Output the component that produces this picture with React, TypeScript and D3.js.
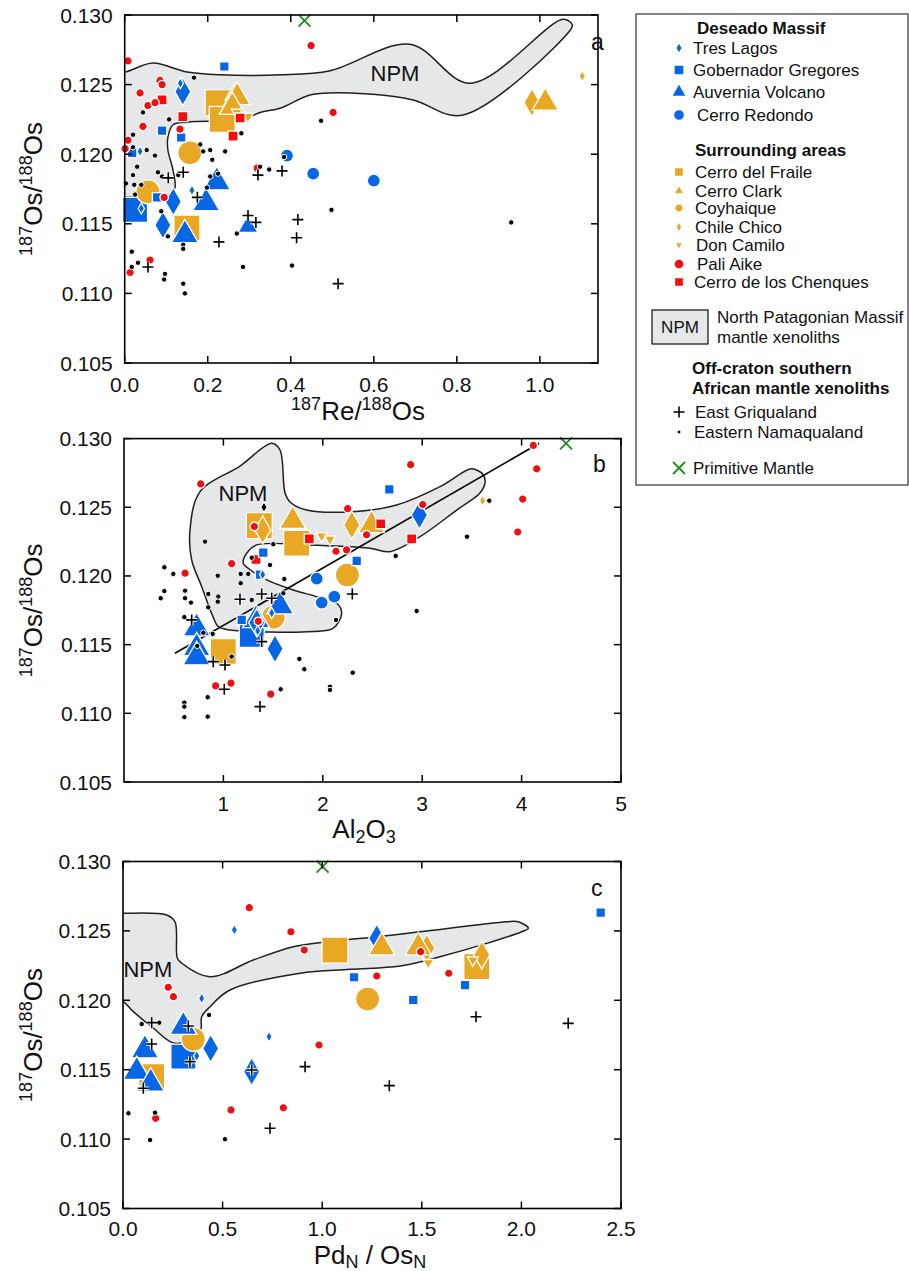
import React from "react";
import * as d3 from "d3";

type Pt = [number, number];

// ---------------- Panel a : 187Re/188Os ----------------
const aNPM: Pt[] = [[-0.03,0.1259],[0,0.1259],[0.068,0.12655],[0.15,0.1259],[0.23,0.1257],[0.374,0.1257],[0.495,0.1260],[0.687,0.1279],[0.832,0.1251],[1.056,0.1297],[1.078,0.1293],[1.073,0.1289],[0.813,0.1228],[0.695,0.1239],[0.598,0.1243],[0.454,0.1243],[0.374,0.1233],[0.326,0.1230],[0.285,0.1225],[0.15,0.1223],[0.116,0.1221],[0.104,0.1212],[0.104,0.1203],[0.116,0.1189],[0.121,0.1176],[0.109,0.1171],[0,0.1169],[-0.03,0.1169]];
const aNPMLabel: Pt = [0.651, 0.1258];
const aPaliAike: Pt[] = [[0.008,0.1267],[0.085,0.1253],[0.09,0.1250],[0.037,0.1244],[0.056,0.1235],[0.073,0.1237],[0.044,0.1220],[0.133,0.1218],[0.008,0.1210],[0.001,0.1204],[0.095,0.1169],[0.061,0.1124],[0.013,0.1115],[0.449,0.1278],[0.502,0.1230],[0.319,0.1190]];
const aChenques: Pt[] = [[0.09,0.1239],[0.14,0.1227],[0.261,0.1213],[0.278,0.1226]];
const aGobernadorSmall: Pt[] = [[0.24,0.1263],[0.09,0.1217],[0.136,0.1212],[0.078,0.1169],[0.018,0.1201]];
const aGobernadorBig: Pt[] = [[0.025,0.1160]];
const aTresLagosBig: Pt[] = [[0.14,0.1245],[0.117,0.1166],[0.092,0.1149]];
const aTresLagosSmall: Pt[] = [[0.134,0.1251],[0.037,0.1202],[0.04,0.1161],[0.162,0.1174]];
const aAuverniaBig: Pt[] = [[0.222,0.1180],[0.196,0.1165],[0.145,0.1142]];
const aAuverniaMid: Pt[] = [[0.297,0.1148]];
const aRedondo: Pt[] = [[0.391,0.1199],[0.454,0.1186],[0.6,0.1181]];
const aFraile: Pt[] = [[0.225,0.1237],[0.235,0.1225],[0.15,0.1147]];
const aClark: Pt[] = [[0.271,0.1241],[0.259,0.1234],[1.013,0.1237]];
const aCoyhaique: Pt[] = [[0.157,0.1201],[0.056,0.1173]];
const aChileChicoBig: Pt[] = [[0.981,0.1237],[0.261,0.1239]];
const aChileChicoSmall: Pt[] = [[1.102,0.1256]];
const aDonCamilo: Pt[] = [[0.27,0.1230],[0.297,0.1227]];
const aGriqualand: Pt[] = [[0.105,0.1183],[0.141,0.1187],[0.175,0.1169],[0.297,0.1156],[0.316,0.1151],[0.227,0.1137],[0.056,0.1119],[0.321,0.1185],[0.379,0.1188],[0.417,0.1153],[0.414,0.1140],[0.514,0.1107]];
const aNamaqualand: Pt[] = [[0.167,0.1255],[0.044,0.1230],[0.107,0.1225],[0.02,0.1214],[0.02,0.1205],[0.053,0.1203],[0.073,0.1199],[0.182,0.1207],[0.206,0.1203],[0.189,0.1202],[0.242,0.1202],[0.211,0.1196],[0.281,0.1215],[0.03,0.1191],[0.08,0.1187],[0.09,0.1184],[0.02,0.1185],[0.003,0.1179],[0.023,0.1178],[0.04,0.1178],[0.025,0.1171],[0.129,0.1185],[0.206,0.1184],[0.225,0.1186],[0.198,0.1176],[0.326,0.1191],[0.348,0.1189],[0.384,0.1198],[0.088,0.1159],[0.104,0.1141],[0.141,0.1135],[0.141,0.1132],[0.017,0.1130],[0.032,0.1122],[0.017,0.1119],[0.097,0.1114],[0.095,0.1110],[0.141,0.1107],[0.145,0.1100],[0.27,0.1143],[0.285,0.1119],[0.403,0.1120],[0.473,0.1224],[0.498,0.1160],[0.931,0.1151]];
const aPM: Pt[] = [[0.433,0.1296]];

// ---------------- Panel b : Al2O3 ----------------
const bNPM: Pt[] = [[0.765,0.12614],[1.167,0.1280],[1.486,0.12966],[1.569,0.12917],[1.62,0.12604],[1.67,0.12539],[1.838,0.1248],[2.304,0.12468],[2.743,0.12517],[3.179,0.1265],[3.481,0.12779],[3.548,0.12771],[3.615,0.12735],[3.632,0.12677],[3.581,0.12604],[3.347,0.1248],[2.978,0.12286],[2.676,0.12177],[2.475,0.12202],[1.838,0.12226],[1.335,0.12226],[1.234,0.12165],[1.2,0.12092],[1.25,0.12056],[1.436,0.11971],[1.703,0.11898],[1.939,0.11849],[2.14,0.11801],[2.19,0.11729],[2.106,0.1162],[1.901,0.11595],[1.066,0.11607],[0.949,0.11631],[0.895,0.11704],[0.782,0.11922],[0.681,0.12116],[0.664,0.12335]];
const bNPMLabel: Pt = [1.197, 0.1260];
const bRegression: Pt[] = [[0.513,0.11437],[4.177,0.12966]];
const bPaliAike: Pt[] = [[0.772,0.1267],[0.614,0.1202],[1.083,0.1209],[1.311,0.1236],[2.25,0.1249],[2.133,0.1218],[2.24,0.1219],[2.44,0.1230],[1.351,0.1167],[0.922,0.1120],[1.076,0.1122],[1.476,0.1114],[2.884,0.1281],[4.118,0.1295],[4.152,0.1278],[4.011,0.1256],[3.961,0.1232],[3.005,0.1252]];
const bChenques: Pt[] = [[1.864,0.1227],[1.328,0.1212],[2.583,0.1238],[2.894,0.1227]];
const bGobernadorSmall: Pt[] = [[1.401,0.1217],[1.368,0.1201],[2.341,0.1211],[2.669,0.1263],[1.184,0.1168]];
const bGobernadorBig: Pt[] = [[1.285,0.1157]];
const bTresLagosBig: Pt[] = [[2.972,0.12444],[1.519,0.1147],[1.335,0.1166]];
const bTresLagosSmall: Pt[] = [[1.395,0.1201],[1.486,0.1173],[1.345,0.1160]];
const bBlackDiamond: Pt[] = [[1.408,0.1250]];
const bAuverniaBig: Pt[] = [[0.731,0.1162],[0.731,0.11476],[0.731,0.1141],[1.569,0.1178],[1.328,0.1168]];
const bRedondo: Pt[] = [[1.939,0.1198],[2.116,0.11849],[1.989,0.11806]];
const bFraile: Pt[] = [[1.361,0.12366],[1.737,0.12238],[0.999,0.1145]];
const bClark: Pt[] = [[1.697,0.1240],[2.49,0.1237]];
const bCoyhaique: Pt[] = [[2.247,0.12007],[1.502,0.1170]];
const bChileChicoBig: Pt[] = [[1.395,0.12335],[2.291,0.12371]];
const bChileChicoSmall: Pt[] = [[3.608,0.12548]];
const bDonCamilo: Pt[] = [[1.989,0.12291],[2.072,0.12267]];
const bGriqualand: Pt[] = [[1.385,0.11869],[1.486,0.11838],[1.167,0.1183],[2.297,0.11869],[0.681,0.1168],[1.385,0.11522],[0.898,0.11376],[1.016,0.11352],[1.009,0.11175],[1.368,0.11049]];
const bNamaqualand: Pt[] = [[0.815,0.1225],[1.502,0.12231],[1.285,0.12133],[1.469,0.1208],[1.174,0.12015],[1.25,0.12015],[0.943,0.12002],[1.174,0.11947],[1.613,0.11978],[0.406,0.12063],[0.496,0.12015],[0.406,0.1189],[0.369,0.11838],[0.614,0.11893],[0.614,0.11838],[0.674,0.11806],[0.848,0.11869],[0.949,0.1185],[0.943,0.11813],[1.285,0.11825],[1.603,0.11874],[0.848,0.11772],[0.607,0.117],[2.133,0.1168],[0.798,0.11587],[0.892,0.11578],[0.737,0.11491],[1.083,0.11413],[1.764,0.11396],[1.814,0.11321],[2.301,0.11296],[2.072,0.11194],[2.072,0.1117],[1.576,0.11175],[0.842,0.11117],[0.607,0.11078],[0.607,0.11049],[0.607,0.10972],[0.842,0.10976],[2.733,0.12146],[3.451,0.12286],[3.675,0.12548],[2.944,0.11745]];
const bPM: Pt[] = [[4.447,0.12966]];

// ---------------- Panel c : PdN/OsN ----------------
const cNPM: Pt[] = [[-0.03,0.12627],[0,0.12627],[0.219,0.12615],[0.261,0.12566],[0.273,0.12303],[0.295,0.12267],[0.437,0.1217],[0.654,0.1229],[0.855,0.12386],[1.023,0.12422],[1.274,0.12458],[1.491,0.12494],[1.926,0.12566],[1.984,0.12566],[2.035,0.12519],[2.002,0.12494],[1.826,0.1241],[1.591,0.12314],[1.391,0.12247],[1.14,0.12223],[0.889,0.12195],[0.537,0.12074],[0.437,0.11954],[0.395,0.11882],[0.387,0.11774],[0.261,0.1169],[0.144,0.1181],[0.052,0.11918],[0,0.1199],[-0.03,0.1199]];
const cNPMLabel: Pt = [0.125, 0.1222];
const cPaliAike: Pt[] = [[0.634,0.12667],[0.843,0.12494],[0.91,0.12362],[0.227,0.12094],[0.253,0.12026],[0.984,0.11678],[0.542,0.1121],[0.805,0.11226],[0.164,0.1115],[1.274,0.12175],[1.494,0.1235],[1.635,0.12195]];
const cGobernadorSmall: Pt[] = [[1.16,0.12166],[1.457,0.12002],[1.717,0.1211],[2.398,0.12631]];
const cGobernadorBig: Pt[] = [[0.303,0.11594]];
const cTresLagosSmall: Pt[] = [[0.559,0.12507],[0.395,0.12014],[0.733,0.11738],[0.37,0.11599]];
const cTresLagosBig: Pt[] = [[0.44,0.11654],[0.646,0.11486],[1.274,0.12447]];
const cAuverniaBig: Pt[] = [[0.303,0.1181],[0.11,0.11642],[0.069,0.11486],[0.139,0.11402]];
const cFraile: Pt[] = [[0.144,0.1145],[1.064,0.12362],[1.776,0.12242]];
const cClark: Pt[] = [[1.299,0.12382],[1.482,0.12382]];
const cCoyhaique: Pt[] = [[0.353,0.11719],[1.228,0.12009]];
const cChileChicoBig: Pt[] = [[1.525,0.12375],[1.801,0.12327]];
const cDonCamilo: Pt[] = [[1.533,0.12271],[1.756,0.1229]];
const cGriqualand: Pt[] = [[0.144,0.11839],[0.328,0.11815],[0.144,0.11685],[0.336,0.11558],[0.102,0.11366],[0.646,0.11498],[0.914,0.11522],[0.738,0.11078],[1.772,0.11882],[2.235,0.11834],[1.337,0.11385]];
const cNamaqualand: Pt[] = [[0.094,0.11829],[0.182,0.11839],[0.432,0.11894],[0.027,0.11186],[0.161,0.1119],[0.136,0.10993],[0.512,0.10999]];
const cPM: Pt[] = [[1.002,0.12963]];

// ---------------- axes ----------------
const yTicks = [0.105, 0.11, 0.115, 0.12, 0.125, 0.13];
const aXTicks = [0, 0.2, 0.4, 0.6, 0.8, 1.0];
const bXTicks = [1, 2, 3, 4, 5];
const cXTicks = [0, 0.5, 1.0, 1.5, 2.0, 2.5];

// ---------------- styles ----------------
const BLUE = "#0766e6";
const GOLD = "#e9a824";
const RED = "#f50d0d";
const GREEN = "#1f8f1f";
const FONT = "'Liberation Sans', Arial, Helvetica, sans-serif";

type Shape = "circle" | "square" | "triangle" | "diamond" | "invtri" | "plus" | "dot" | "x";
interface Style { shape: Shape; color: string; size: number }

const dArea = (h: number) => 0.2887 * h * h;
const tArea = (s: number) => (Math.sqrt(3) / 4) * s * s;
const cArea = (d: number) => Math.PI * (d / 2) * (d / 2);

const S: Record<string, Style> = {
  tresBig: { shape: "diamond", color: BLUE, size: dArea(28) },
  tresSmall: { shape: "diamond", color: BLUE, size: dArea(11) },
  gobBig: { shape: "square", color: BLUE, size: 25 * 25 },
  gobSmall: { shape: "square", color: BLUE, size: 9.5 * 9.5 },
  auvBig: { shape: "triangle", color: BLUE, size: tArea(27) },
  auvMid: { shape: "triangle", color: BLUE, size: tArea(20) },
  redondo: { shape: "circle", color: BLUE, size: cArea(13) },
  fraile: { shape: "square", color: GOLD, size: 26 * 26 },
  clark: { shape: "triangle", color: GOLD, size: tArea(26) },
  coy: { shape: "circle", color: GOLD, size: cArea(24) },
  chileBig: { shape: "diamond", color: GOLD, size: dArea(28) },
  chileSmall: { shape: "diamond", color: GOLD, size: dArea(11) },
  don: { shape: "invtri", color: GOLD, size: tArea(11) },
  pali: { shape: "circle", color: RED, size: cArea(8.5) },
  chenques: { shape: "square", color: RED, size: 10 * 10 },
  blackDiamond: { shape: "diamond", color: "#000", size: dArea(11) },
  griq: { shape: "plus", color: "#000", size: 11 },
  nama: { shape: "dot", color: "#000", size: 5.4 },
  pm: { shape: "x", color: GREEN, size: 12 },
};

const symType: Record<string, d3.SymbolType> = {
  circle: d3.symbolCircle,
  square: d3.symbolSquare,
  triangle: d3.symbolTriangle,
  diamond: d3.symbolDiamond,
  invtri: d3.symbolTriangle,
};

function Marker({ x, y, st }: { x: number; y: number; st: Style }) {
  const h = st.size / 2;
  if (st.shape === "plus") {
    return (
      <g>
        <path d={`M${x - h},${y}H${x + h}M${x},${y - h}V${y + h}`} stroke="#fff" strokeWidth={3.6} />
        <path d={`M${x - h},${y}H${x + h}M${x},${y - h}V${y + h}`} stroke="#000" strokeWidth={1.6} />
      </g>
    );
  }
  if (st.shape === "x") {
    return <path d={`M${x - h},${y - h}L${x + h},${y + h}M${x - h},${y + h}L${x + h},${y - h}`} stroke={st.color} strokeWidth={1.8} />;
  }
  if (st.shape === "dot") {
    return <circle cx={x} cy={y} r={st.size / 2} fill="#000" stroke="#fff" strokeWidth={1} />;
  }
  const p = d3.symbol().type(symType[st.shape]).size(st.size)() || "";
  return (
    <path
      d={p}
      transform={`translate(${x},${y})${st.shape === "invtri" ? " rotate(180)" : ""}`}
      fill={st.color}
      stroke="#fff"
      strokeWidth={1.3}
    />
  );
}

interface PanelCfg {
  id: string;
  left: number; right: number; top: number; bottom: number;
  xDomain: [number, number];
  xTicks: number[];
  xFmt: (n: number) => string;
  xLabelDy: number;
  xTitle: React.ReactNode;
  xTitleX: number;
  xTitleDy: number;
  npm: Pt[];
  npmLabel: Pt;
  regression?: Pt[];
  layers: [Pt[], string][];
  letterX: number; letterY: number;
}

const SUP = 18;
const MAIN = 26;

function OsTitle() {
  return (
    <>
      <tspan fontSize={SUP} dy={-10}>187</tspan>
      <tspan fontSize={MAIN} dy={10}>Os/</tspan>
      <tspan fontSize={SUP} dy={-10}>188</tspan>
      <tspan fontSize={MAIN} dy={10}>Os</tspan>
    </>
  );
}

function Panel({ cfg }: { cfg: PanelCfg }) {
  const x = d3.scaleLinear().domain(cfg.xDomain).range([cfg.left, cfg.right]);
  const y = d3.scaleLinear().domain([0.105, 0.13]).range([cfg.bottom, cfg.top]);
  const line = d3.line<Pt>().x((d) => x(d[0])).y((d) => y(d[1]));
  const poly = d3
    .line<Pt>()
    .x((d) => x(d[0]))
    .y((d) => y(d[1]))
    .curve(d3.curveCatmullRomClosed.alpha(0.5))(cfg.npm) || "";
  const clip = `clip-${cfg.id}`;
  const TL = 7;
  const yFmt = d3.format(".3f");
  return (
    <g fontFamily={FONT}>
      <defs>
        <clipPath id={clip}>
          <rect x={cfg.left} y={cfg.top} width={cfg.right - cfg.left} height={cfg.bottom - cfg.top} />
        </clipPath>
      </defs>
      <g clipPath={`url(#${clip})`}>
        <path d={poly} fill="#e6e7e8" stroke="#231f20" strokeWidth={1.5} />
        <text x={x(cfg.npmLabel[0])} y={y(cfg.npmLabel[1])} fontSize={22} textAnchor="middle" dominantBaseline="central" fill="#111">NPM</text>
        {cfg.regression && <path d={line(cfg.regression) || ""} stroke="#000" strokeWidth={1.6} fill="none" />}
      </g>
      <g>
        {cfg.layers.map(([data, key], i) => (
          <g key={i}>
            {data.map((d, j) => (
              <Marker key={j} x={x(d[0])} y={y(d[1])} st={S[key]} />
            ))}
          </g>
        ))}
      </g>
      <rect x={cfg.left} y={cfg.top} width={cfg.right - cfg.left} height={cfg.bottom - cfg.top} fill="none" stroke="#000" strokeWidth={1.6} />
      {cfg.xTicks.map((t) => (
        <g key={"x" + t}>
          <line x1={x(t)} x2={x(t)} y1={cfg.bottom} y2={cfg.bottom - TL} stroke="#000" strokeWidth={1.5} />
          <line x1={x(t)} x2={x(t)} y1={cfg.top} y2={cfg.top + TL} stroke="#000" strokeWidth={1.5} />
          <text x={x(t)} y={cfg.bottom + cfg.xLabelDy} fontSize={21} textAnchor="middle" fill="#111">{cfg.xFmt(t)}</text>
        </g>
      ))}
      {yTicks.map((t) => (
        <g key={"y" + t}>
          <line x1={cfg.left} x2={cfg.left + TL} y1={y(t)} y2={y(t)} stroke="#000" strokeWidth={1.5} />
          <line x1={cfg.right} x2={cfg.right - TL} y1={y(t)} y2={y(t)} stroke="#000" strokeWidth={1.5} />
          <text x={cfg.left - 12} y={y(t)} fontSize={21} textAnchor="end" dominantBaseline="central" fill="#111">{yFmt(t)}</text>
        </g>
      ))}
      <text x={cfg.xTitleX} y={cfg.bottom + cfg.xTitleDy} fontSize={MAIN} textAnchor="middle" fill="#111">{cfg.xTitle}</text>
      <text transform={`translate(42,${(cfg.top + cfg.bottom) / 2}) rotate(-90)`} fontSize={MAIN} textAnchor="middle" fill="#111">
        <OsTitle />
      </text>
      <text x={cfg.letterX} y={cfg.letterY} fontSize={23} fill="#111">{cfg.id}</text>
    </g>
  );
}

const panelA: PanelCfg = {
  id: "a", left: 124.7, right: 598, top: 15, bottom: 363,
  xDomain: [0, 1.14], xTicks: aXTicks, xFmt: d3.format(".1f"), xLabelDy: 29,
  xTitle: (<><tspan fontSize={SUP} dy={-10}>187</tspan><tspan dy={10}>Re/</tspan><tspan fontSize={SUP} dy={-10}>188</tspan><tspan dy={10}>Os</tspan></>),
  xTitleX: 358, xTitleDy: 57,
  npm: aNPM, npmLabel: aNPMLabel,
  layers: [
    [aGobernadorBig, "gobBig"], [aFraile, "fraile"], [aCoyhaique, "coy"], [aAuverniaBig, "auvBig"],
    [aTresLagosBig, "tresBig"], [aChileChicoBig, "chileBig"], [aClark, "clark"], [aAuverniaMid, "auvMid"],
    [aRedondo, "redondo"], [aDonCamilo, "don"], [aChenques, "chenques"], [aGobernadorSmall, "gobSmall"],
    [aTresLagosSmall, "tresSmall"], [aChileChicoSmall, "chileSmall"], [aPaliAike, "pali"],
    [aNamaqualand, "nama"], [aGriqualand, "griq"], [aPM, "pm"],
  ],
  letterX: 591, letterY: 50,
};

const panelB: PanelCfg = {
  id: "b", left: 124, right: 621, top: 438.6, bottom: 782,
  xDomain: [0, 5], xTicks: bXTicks, xFmt: d3.format("d"), xLabelDy: 29,
  xTitle: (<><tspan>Al</tspan><tspan fontSize={SUP} dy={5}>2</tspan><tspan dy={-5}>O</tspan><tspan fontSize={SUP} dy={5}>3</tspan></>),
  xTitleX: 364, xTitleDy: 56,
  npm: bNPM, npmLabel: bNPMLabel, regression: bRegression,
  layers: [
    [bGobernadorBig, "gobBig"], [bFraile, "fraile"], [bCoyhaique, "coy"], [bAuverniaBig, "auvBig"],
    [bTresLagosBig, "tresBig"], [bChileChicoBig, "chileBig"], [bClark, "clark"],
    [bRedondo, "redondo"], [bDonCamilo, "don"], [bChenques, "chenques"], [bGobernadorSmall, "gobSmall"],
    [bTresLagosSmall, "tresSmall"], [bChileChicoSmall, "chileSmall"], [bPaliAike, "pali"], [bBlackDiamond, "blackDiamond"],
    [bNamaqualand, "nama"], [bGriqualand, "griq"], [bPM, "pm"],
  ],
  letterX: 593, letterY: 472,
};

const panelC: PanelCfg = {
  id: "c", left: 123, right: 621, top: 861.5, bottom: 1208.5,
  xDomain: [0, 2.5], xTicks: cXTicks, xFmt: d3.format(".1f"), xLabelDy: 27,
  xTitle: (<><tspan>Pd</tspan><tspan fontSize={SUP} dy={4}>N</tspan><tspan dy={-4}> / Os</tspan><tspan fontSize={SUP} dy={4}>N</tspan></>),
  xTitleX: 370, xTitleDy: 55.5,
  npm: cNPM, npmLabel: cNPMLabel,
  layers: [
    [cGobernadorBig, "gobBig"], [cFraile, "fraile"], [cCoyhaique, "coy"], [cAuverniaBig, "auvBig"],
    [cTresLagosBig, "tresBig"], [cChileChicoBig, "chileBig"], [cClark, "clark"],
    [cDonCamilo, "don"], [cGobernadorSmall, "gobSmall"],
    [cTresLagosSmall, "tresSmall"], [cPaliAike, "pali"],
    [cNamaqualand, "nama"], [cGriqualand, "griq"], [cPM, "pm"],
  ],
  letterX: 591, letterY: 896,
};

// ---------------- legend ----------------
const legendHeadings: [string, number, number][] = [
  ["Deseado Massif", 697, 28],
  ["Surrounding areas", 695, 150],
  ["Off-craton southern", 692, 368],
  ["African mantle xenoliths", 692, 388],
];
const legendItems: [string, Style, number, number][] = [
  ["Tres Lagos", { shape: "diamond", color: BLUE, size: dArea(11) }, 48, 693],
  ["Gobernador Gregores", { shape: "square", color: BLUE, size: 100 }, 70, 693],
  ["Auvernia Volcano", { shape: "triangle", color: BLUE, size: tArea(15) }, 92, 693],
  ["Cerro Redondo", { shape: "circle", color: BLUE, size: cArea(11) }, 115, 697],
  ["Cerro del Fraile", { shape: "square", color: GOLD, size: 81 }, 172, 695],
  ["Cerro Clark", { shape: "triangle", color: GOLD, size: tArea(10) }, 191, 695],
  ["Coyhaique", { shape: "circle", color: GOLD, size: cArea(8.5) }, 208, 695],
  ["Chile Chico", { shape: "diamond", color: GOLD, size: dArea(10) }, 227, 695],
  ["Don Camilo", { shape: "invtri", color: GOLD, size: tArea(8) }, 245, 696],
  ["Pali Aike", { shape: "circle", color: RED, size: cArea(10) }, 264, 697],
  ["Cerro de los Chenques", { shape: "square", color: RED, size: 81 }, 282, 694],
  ["East Griqualand", { shape: "plus", color: "#000", size: 11 }, 412, 695],
  ["Eastern Namaqualand", { shape: "dot", color: "#000", size: 4 }, 432, 694],
  ["Primitive Mantle", { shape: "x", color: GREEN, size: 12 }, 468, 693],
];

function Legend() {
  return (
    <g fontFamily={FONT} fontSize={17} fill="#111">
      <rect x={636} y={14} width={272} height={471} fill="#fff" stroke="#333" strokeWidth={1.2} />
      {legendHeadings.map(([t, x, y]) => (
        <text key={t} x={x} y={y} fontWeight="bold" dominantBaseline="central">{t}</text>
      ))}
      {legendItems.map(([t, st, y, tx]) => (
        <g key={t}>
          <Marker x={679} y={y} st={st} />
          <text x={tx} y={y} dominantBaseline="central">{t}</text>
        </g>
      ))}
      <rect x={652} y={310} width={56} height={34} fill="#e6e7e8" stroke="#231f20" strokeWidth={1.3} />
      <text x={680} y={327} textAnchor="middle" dominantBaseline="central">NPM</text>
      <text x={717} y={317} dominantBaseline="central">North Patagonian Massif</text>
      <text x={717} y={337} dominantBaseline="central">mantle xenoliths</text>
    </g>
  );
}

export default function App() {
  return (
    <svg width={909} height={1271} viewBox="0 0 909 1271" style={{ display: "block", position: "absolute", left: 0, top: 0 }}>
      <rect x={0} y={0} width={909} height={1271} fill="#fff" />
      <Panel cfg={panelA} />
      <Panel cfg={panelB} />
      <Panel cfg={panelC} />
      <Legend />
    </svg>
  );
}
